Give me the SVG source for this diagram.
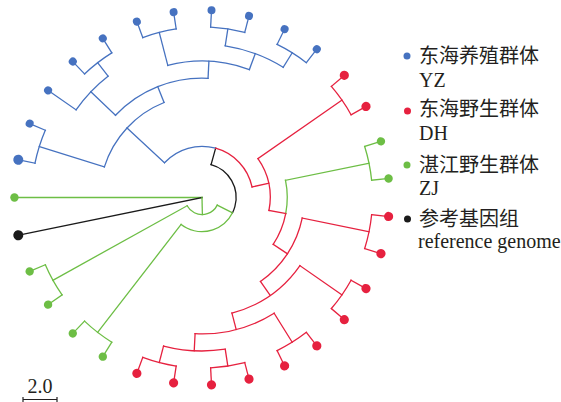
<svg xmlns="http://www.w3.org/2000/svg" width="561" height="402" viewBox="0 0 561 402">
<style>
#connectors line, #connectors circle { fill: none; stroke-width: 1.3; stroke-linecap: square; }
.b { stroke: #4672C0; } .r { stroke: #E6213F; } .g { stroke: #6DBE45; } .k { stroke: #1A1A1A; }
.db { fill: #4672C0; } .dr { fill: #E6213F; } .dg { fill: #6DBE45; } .dk { fill: #1A1A1A; }
text { font-family: "Liberation Serif", "Noto Sans CJK SC", serif; font-size: 20px; fill: #231F20; }
.cn { font-family: "Noto Sans CJK SC", sans-serif; }
</style>
<rect width="561" height="402" fill="#fff"/>
<g id="connectors" transform="translate(202,197.5)">
  <!-- leaf branches -->
  <line x1="0" x2="187.55" transform="rotate(180)" class="g"/>
  <line x1="0" x2="187.55" transform="rotate(168.387)" class="k"/>
  <line x1="170.5" x2="187.55" transform="rotate(156.774)" class="g"/>
  <line x1="170.5" x2="187.55" transform="rotate(145.161)" class="g"/>
  <line x1="170.5" x2="187.55" transform="rotate(133.548)" class="g"/>
  <line x1="170.5" x2="187.55" transform="rotate(121.935)" class="g"/>
  <line x1="170.5" x2="187.55" transform="rotate(110.323)" class="r"/>
  <line x1="170.5" x2="187.55" transform="rotate(98.710)" class="r"/>
  <line x1="170.5" x2="187.55" transform="rotate(87.097)" class="r"/>
  <line x1="170.5" x2="187.55" transform="rotate(75.484)" class="r"/>
  <line x1="170.5" x2="187.55" transform="rotate(63.871)" class="r"/>
  <line x1="170.5" x2="187.55" transform="rotate(52.258)" class="r"/>
  <line x1="170.5" x2="187.55" transform="rotate(40.645)" class="r"/>
  <line x1="170.5" x2="187.55" transform="rotate(29.032)" class="r"/>
  <line x1="170.5" x2="187.55" transform="rotate(17.419)" class="r"/>
  <line x1="170.5" x2="187.55" transform="rotate(5.806)" class="r"/>
  <line x1="170.5" x2="187.55" transform="rotate(-5.806)" class="g"/>
  <line x1="170.5" x2="187.55" transform="rotate(-17.419)" class="g"/>
  <line x1="170.5" x2="187.55" transform="rotate(-29.032)" class="r"/>
  <line x1="170.5" x2="187.55" transform="rotate(-40.645)" class="r"/>
  <line x1="170.5" x2="187.55" transform="rotate(-52.258)" class="b"/>
  <line x1="170.5" x2="187.55" transform="rotate(-63.871)" class="b"/>
  <line x1="170.5" x2="187.55" transform="rotate(-75.484)" class="b"/>
  <line x1="170.5" x2="187.55" transform="rotate(-87.097)" class="b"/>
  <line x1="170.5" x2="187.55" transform="rotate(-98.710)" class="b"/>
  <line x1="170.5" x2="187.55" transform="rotate(-110.323)" class="b"/>
  <line x1="170.5" x2="187.55" transform="rotate(-121.935)" class="b"/>
  <line x1="170.5" x2="187.55" transform="rotate(-133.548)" class="b"/>
  <line x1="153.45" x2="187.55" transform="rotate(-145.161)" class="b"/>
  <line x1="170.5" x2="187.55" transform="rotate(-156.774)" class="b"/>
  <line x1="170.5" x2="187.55" transform="rotate(-168.387)" class="b"/>
  <!-- pair node branches -->
  <line x1="17.05" x2="170.5" transform="rotate(150.968)" class="g"/>
  <line x1="34.1" x2="170.5" transform="rotate(127.742)" class="g"/>
  <line x1="153.45" x2="170.5" transform="rotate(104.516)" class="r"/>
  <line x1="153.45" x2="170.5" transform="rotate(81.290)" class="r"/>
  <line x1="136.4" x2="170.5" transform="rotate(58.065)" class="r"/>
  <line x1="119.35" x2="170.5" transform="rotate(34.839)" class="r"/>
  <line x1="102.3" x2="170.5" transform="rotate(11.613)" class="r"/>
  <line x1="85.25" x2="170.5" transform="rotate(-11.613)" class="g"/>
  <line x1="68.2" x2="170.5" transform="rotate(-34.839)" class="r"/>
  <line x1="153.45" x2="170.5" transform="rotate(-58.065)" class="b"/>
  <line x1="153.45" x2="170.5" transform="rotate(-81.290)" class="b"/>
  <line x1="136.4" x2="170.5" transform="rotate(-104.516)" class="b"/>
  <line x1="153.45" x2="170.5" transform="rotate(-127.742)" class="b"/>
  <line x1="102.3" x2="170.5" transform="rotate(-162.581)" class="b"/>
  <!-- internal branches -->
  <line x1="136.4" x2="153.45" transform="rotate(92.903)" class="r"/>
  <line x1="119.35" x2="136.4" transform="rotate(75.484)" class="r"/>
  <line x1="102.3" x2="119.35" transform="rotate(55.161)" class="r"/>
  <line x1="85.25" x2="102.3" transform="rotate(33.387)" class="r"/>
  <line x1="68.2" x2="85.25" transform="rotate(10.887)" class="r"/>
  <line x1="51.15" x2="68.2" transform="rotate(-11.976)" class="r"/>
  <line x1="136.4" x2="153.45" transform="rotate(-69.677)" class="b"/>
  <line x1="119.35" x2="136.4" transform="rotate(-87.097)" class="b"/>
  <line x1="119.35" x2="153.45" transform="rotate(-136.452)" class="b"/>
  <line x1="102.3" x2="119.35" transform="rotate(-111.774)" class="b"/>
  <line x1="51.15" x2="102.3" transform="rotate(-137.177)" class="b"/>
  <line x1="34.1" x2="51.15" transform="rotate(-74.577)" class="k"/>
  <line x1="17.05" x2="34.1" transform="rotate(26.583)" class="g"/>
  <line x1="0" x2="17.05" transform="rotate(88.775)" class="g"/>
  <!-- arcs -->
  <circle r="170.5" pathLength="360" stroke-dasharray="11.613 400" transform="rotate(145.161)" class="g"/>
  <circle r="170.5" pathLength="360" stroke-dasharray="11.613 400" transform="rotate(121.935)" class="g"/>
  <circle r="170.5" pathLength="360" stroke-dasharray="11.613 400" transform="rotate(98.710)" class="r"/>
  <circle r="170.5" pathLength="360" stroke-dasharray="11.613 400" transform="rotate(75.484)" class="r"/>
  <circle r="170.5" pathLength="360" stroke-dasharray="11.613 400" transform="rotate(52.258)" class="r"/>
  <circle r="170.5" pathLength="360" stroke-dasharray="11.613 400" transform="rotate(29.032)" class="r"/>
  <circle r="170.5" pathLength="360" stroke-dasharray="11.613 400" transform="rotate(5.806)" class="r"/>
  <circle r="170.5" pathLength="360" stroke-dasharray="11.613 400" transform="rotate(-17.419)" class="g"/>
  <circle r="170.5" pathLength="360" stroke-dasharray="11.613 400" transform="rotate(-40.645)" class="r"/>
  <circle r="170.5" pathLength="360" stroke-dasharray="11.613 400" transform="rotate(-63.871)" class="b"/>
  <circle r="170.5" pathLength="360" stroke-dasharray="11.613 400" transform="rotate(-87.097)" class="b"/>
  <circle r="170.5" pathLength="360" stroke-dasharray="11.613 400" transform="rotate(-110.323)" class="b"/>
  <circle r="170.5" pathLength="360" stroke-dasharray="11.613 400" transform="rotate(-133.548)" class="b"/>
  <circle r="170.5" pathLength="360" stroke-dasharray="11.613 400" transform="rotate(-168.387)" class="b"/>
  <circle r="153.45" pathLength="360" stroke-dasharray="23.226 400" transform="rotate(81.290)" class="r"/>
  <circle r="136.4" pathLength="360" stroke-dasharray="34.838 400" transform="rotate(58.065)" class="r"/>
  <circle r="119.35" pathLength="360" stroke-dasharray="40.645 400" transform="rotate(34.839)" class="r"/>
  <circle r="102.3" pathLength="360" stroke-dasharray="43.548 400" transform="rotate(11.613)" class="r"/>
  <circle r="85.25" pathLength="360" stroke-dasharray="22.5 400" transform="rotate(-11.613)" class="g"/>
  <circle r="85.25" pathLength="360" stroke-dasharray="22.5 400" transform="rotate(10.887)" class="r"/>
  <circle r="68.2" pathLength="360" stroke-dasharray="45.726 400" transform="rotate(-34.839)" class="r"/>
  <circle r="153.45" pathLength="360" stroke-dasharray="23.225 400" transform="rotate(-81.290)" class="b"/>
  <circle r="136.4" pathLength="360" stroke-dasharray="34.839 400" transform="rotate(-104.516)" class="b"/>
  <circle r="153.45" pathLength="360" stroke-dasharray="17.419 400" transform="rotate(-145.161)" class="b"/>
  <circle r="119.35" pathLength="360" stroke-dasharray="49.355 400" transform="rotate(-136.452)" class="b"/>
  <circle r="102.3" pathLength="360" stroke-dasharray="50.807 400" transform="rotate(-162.581)" class="b"/>
  <circle r="51.15" pathLength="360" stroke-dasharray="62.6 400" transform="rotate(-137.177)" class="b"/>
  <circle r="51.15" pathLength="360" stroke-dasharray="62.601 400" transform="rotate(-74.577)" class="r"/>
  <circle r="34.1" pathLength="360" stroke-dasharray="101.16 400" transform="rotate(-74.577)" class="k"/>
  <circle r="34.1" pathLength="360" stroke-dasharray="101.159 400" transform="rotate(26.583)" class="g"/>
  <circle r="17.05" pathLength="360" stroke-dasharray="124.385 400" transform="rotate(26.583)" class="g"/>
</g>
<g id="leaves" transform="translate(202,197.5)">
  <g id="leaf-0"><circle cx="187.55" r="4.2" transform="rotate(180)" class="dg"/></g>
  <g id="leaf-1"><circle cx="187.55" r="5" transform="rotate(168.387)" class="dk"/></g>
  <g id="leaf-2"><circle cx="187.55" r="4.2" transform="rotate(156.774)" class="dg"/></g>
  <g id="leaf-3"><circle cx="187.55" r="4.2" transform="rotate(145.161)" class="dg"/></g>
  <g id="leaf-4"><circle cx="187.55" r="4.2" transform="rotate(133.548)" class="dg"/></g>
  <g id="leaf-5"><circle cx="187.55" r="4.2" transform="rotate(121.935)" class="dg"/></g>
  <g id="leaf-6"><circle cx="187.55" r="4.6" transform="rotate(110.323)" class="dr"/></g>
  <g id="leaf-7"><circle cx="187.55" r="4.6" transform="rotate(98.710)" class="dr"/></g>
  <g id="leaf-8"><circle cx="187.55" r="4.6" transform="rotate(87.097)" class="dr"/></g>
  <g id="leaf-9"><circle cx="187.55" r="4.6" transform="rotate(75.484)" class="dr"/></g>
  <g id="leaf-10"><circle cx="187.55" r="4.6" transform="rotate(63.871)" class="dr"/></g>
  <g id="leaf-11"><circle cx="187.55" r="4.6" transform="rotate(52.258)" class="dr"/></g>
  <g id="leaf-12"><circle cx="187.55" r="4.6" transform="rotate(40.645)" class="dr"/></g>
  <g id="leaf-13"><circle cx="187.55" r="4.6" transform="rotate(29.032)" class="dr"/></g>
  <g id="leaf-14"><circle cx="187.55" r="4.6" transform="rotate(17.419)" class="dr"/></g>
  <g id="leaf-15"><circle cx="187.55" r="4.6" transform="rotate(5.806)" class="dr"/></g>
  <g id="leaf-16"><circle cx="187.55" r="4.2" transform="rotate(-5.806)" class="dg"/></g>
  <g id="leaf-17"><circle cx="187.55" r="4.2" transform="rotate(-17.419)" class="dg"/></g>
  <g id="leaf-18"><circle cx="187.55" r="4.6" transform="rotate(-29.032)" class="dr"/></g>
  <g id="leaf-19"><circle cx="187.55" r="4.6" transform="rotate(-40.645)" class="dr"/></g>
  <g id="leaf-20"><circle cx="187.55" r="4" transform="rotate(-52.258)" class="db"/></g>
  <g id="leaf-21"><circle cx="187.55" r="4" transform="rotate(-63.871)" class="db"/></g>
  <g id="leaf-22"><circle cx="187.55" r="4" transform="rotate(-75.484)" class="db"/></g>
  <g id="leaf-23"><circle cx="187.55" r="4" transform="rotate(-87.097)" class="db"/></g>
  <g id="leaf-24"><circle cx="187.55" r="4" transform="rotate(-98.710)" class="db"/></g>
  <g id="leaf-25"><circle cx="187.55" r="4" transform="rotate(-110.323)" class="db"/></g>
  <g id="leaf-26"><circle cx="187.55" r="4" transform="rotate(-121.935)" class="db"/></g>
  <g id="leaf-27"><circle cx="187.55" r="4" transform="rotate(-133.548)" class="db"/></g>
  <g id="leaf-28"><circle cx="187.55" r="4" transform="rotate(-145.161)" class="db"/></g>
  <g id="leaf-29"><circle cx="187.55" r="4" transform="rotate(-156.774)" class="db"/></g>
  <g id="leaf-30"><circle cx="187.55" r="5" transform="rotate(-168.387)" class="db"/></g>
</g>
<g id="legend">
  <g id="legend-yz"><circle cx="407" cy="56" r="3.5" class="db"/><text x="419" y="63" class="cn">东海养殖群体</text><text x="419" y="87">YZ</text></g>
  <g id="legend-dh"><circle cx="407.5" cy="111" r="3.5" class="dr"/><text x="419" y="115.5" class="cn">东海野生群体</text><text x="419" y="140">DH</text></g>
  <g id="legend-zj"><circle cx="407" cy="165" r="3.5" class="dg"/><text x="419" y="171.5" class="cn">湛江野生群体</text><text x="419" y="195">ZJ</text></g>
  <g id="legend-ref"><circle cx="407.5" cy="219" r="3.5" class="dk"/><text x="419" y="225.5" class="cn">参考基因组</text><text x="418" y="248.3">reference genome</text></g>
</g>
<g id="scale-bar" stroke="#231F20" stroke-width="1.2">
  <line x1="23" y1="399.5" x2="57" y2="399.5"/>
  <line x1="23" y1="397" x2="23" y2="402"/>
  <line x1="57" y1="397" x2="57" y2="402"/>
  <text x="40" y="393" text-anchor="middle" stroke="none">2.0</text>
</g>
</svg>
